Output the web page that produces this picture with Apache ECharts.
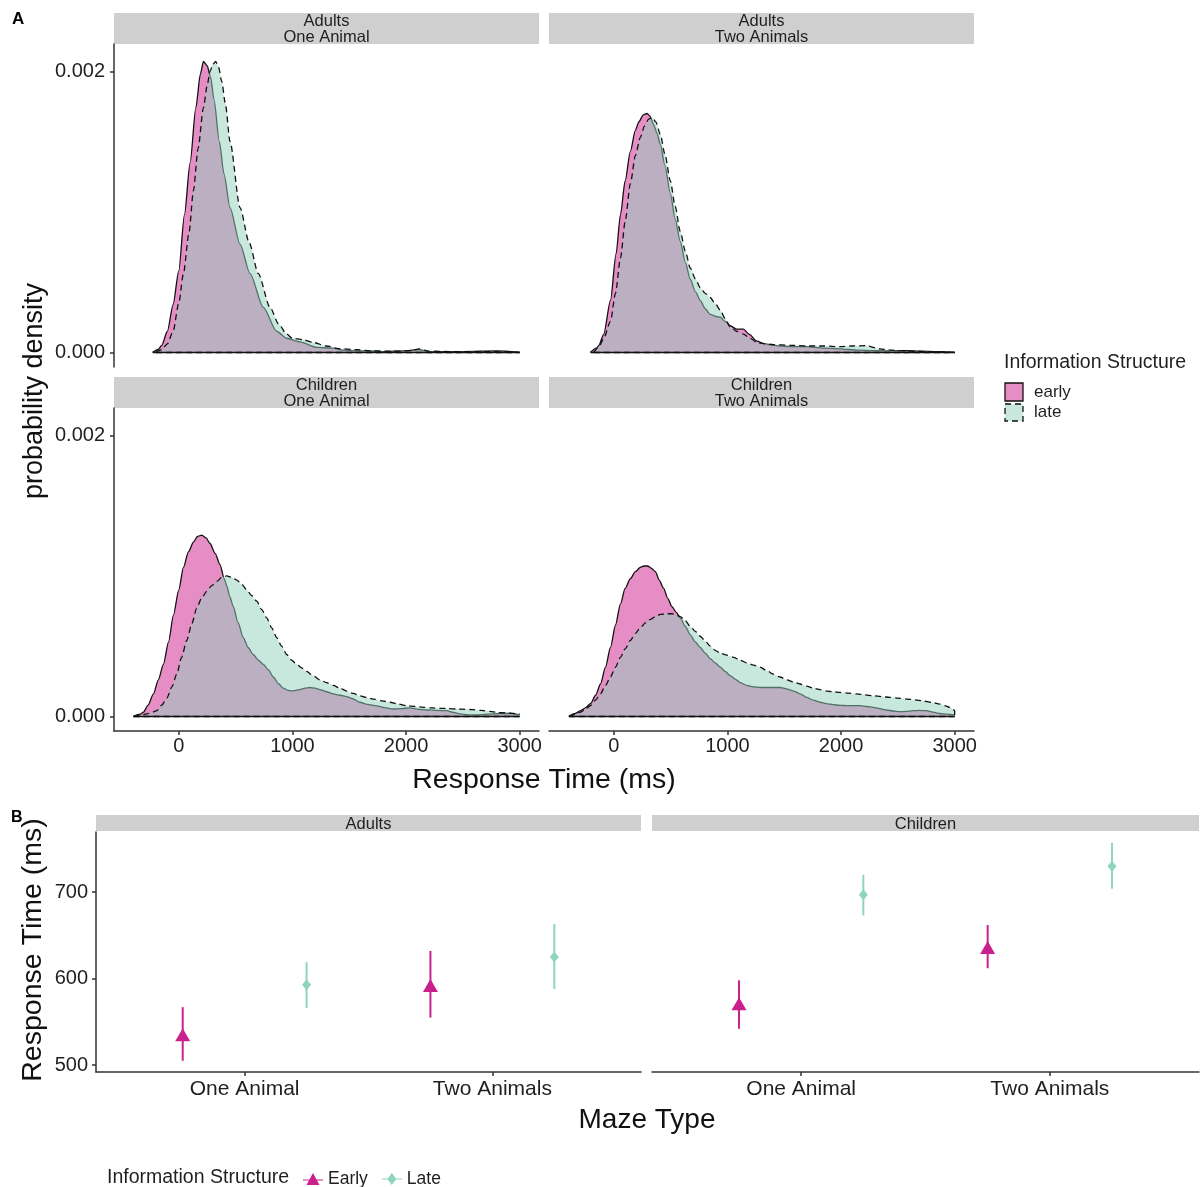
<!DOCTYPE html>
<html>
<head>
<meta charset="utf-8">
<title>Response time by information structure</title>
<script src="https://cdn.jsdelivr.net/npm/echarts@6/dist/echarts.min.js"></script>
<style>
  html, body { margin: 0; padding: 0; background: #fff; }
  #chart { width: 1200px; height: 1187px; }
</style>
</head>
<body>
<div id="chart"></div>
<script>
// density curves: [response time (ms), density x 1e-3]
const adultsOneEarly = [[-230, 0], [-180, 0.02], [-150, 0.05], [-100, 0.15], [-50, 0.34], [0, 0.58], [50, 0.98], [100, 1.35], [150, 1.74], [190, 1.98], [217, 2.07], [250, 2.04], [280, 1.96], [310, 1.8], [357, 1.5], [398, 1.27], [451, 1.03], [539, 0.77], [627, 0.56], [744, 0.32], [861, 0.15], [949, 0.1], [1066, 0.075], [1213, 0.035], [1350, 0.03], [1450, 0.015], [1600, 0.01], [1800, 0.005], [2000, 0.01], [2110, 0.02], [2200, 0.005], [2500, 0.005], [2800, 0.01], [3000, 0]]
const adultsOneLate = [[-200, 0], [-150, 0.02], [-100, 0.06], [-50, 0.15], [0, 0.35], [41, 0.56], [90, 0.85], [129, 1.15], [170, 1.45], [217, 1.74], [250, 1.9], [275, 2.0], [300, 2.05], [325, 2.07], [350, 2.03], [378, 1.93], [410, 1.77], [451, 1.5], [539, 1.03], [620, 0.78], [700, 0.56], [803, 0.32], [880, 0.2], [949, 0.13], [1000, 0.1], [1095, 0.09], [1183, 0.07], [1300, 0.045], [1420, 0.025], [1550, 0.02], [1700, 0.01], [1900, 0.008], [2050, 0.012], [2120, 0.025], [2200, 0.008], [2400, 0.005], [2700, 0.005], [3000, 0]]
const adultsTwoEarly = [[-205, 0], [-150, 0.03], [-132, 0.05], [-88, 0.13], [-29, 0.37], [20, 0.7], [59, 0.98], [100, 1.22], [146, 1.43], [190, 1.58], [220, 1.64], [260, 1.69], [293, 1.7], [320, 1.68], [351, 1.62], [380, 1.56], [410, 1.48], [450, 1.33], [498, 1.13], [540, 0.95], [585, 0.79], [630, 0.64], [673, 0.52], [720, 0.43], [761, 0.37], [805, 0.31], [849, 0.27], [900, 0.255], [937, 0.25], [980, 0.22], [1024, 0.19], [1080, 0.165], [1141, 0.165], [1190, 0.13], [1259, 0.08], [1330, 0.06], [1405, 0.05], [1550, 0.04], [1697, 0.04], [1850, 0.03], [1990, 0.025], [2150, 0.015], [2283, 0.012], [2450, 0.01], [2576, 0.012], [2700, 0.008], [2850, 0.005], [3000, 0]]
const adultsTwoLate = [[-176, 0], [-130, 0.04], [-88, 0.1], [-29, 0.22], [15, 0.42], [59, 0.67], [100, 0.93], [146, 1.2], [190, 1.4], [234, 1.53], [270, 1.61], [307, 1.66], [340, 1.67], [370, 1.64], [410, 1.55], [450, 1.41], [498, 1.22], [540, 1.04], [585, 0.86], [630, 0.72], [673, 0.6], [720, 0.52], [761, 0.46], [805, 0.42], [849, 0.39], [890, 0.35], [937, 0.3], [980, 0.24], [1024, 0.18], [1080, 0.15], [1141, 0.13], [1200, 0.1], [1259, 0.07], [1330, 0.06], [1405, 0.055], [1550, 0.05], [1697, 0.045], [1850, 0.045], [1990, 0.04], [2100, 0.045], [2224, 0.047], [2341, 0.025], [2450, 0.015], [2576, 0.008], [2750, 0.005], [3000, 0]]
const childrenOneEarly = [[-398, 0], [-340, 0.015], [-311, 0.03], [-270, 0.08], [-223, 0.16], [-180, 0.26], [-135, 0.37], [-90, 0.53], [-47, 0.72], [0, 0.9], [41, 1.06], [85, 1.17], [129, 1.24], [165, 1.28], [202, 1.29], [240, 1.27], [275, 1.23], [320, 1.16], [363, 1.08], [400, 0.98], [422, 0.93], [450, 0.85], [480, 0.78], [520, 0.67], [568, 0.56], [610, 0.49], [656, 0.44], [700, 0.4], [744, 0.37], [790, 0.33], [832, 0.28], [880, 0.23], [920, 0.2], [960, 0.185], [993, 0.18], [1030, 0.185], [1066, 0.19], [1110, 0.2], [1154, 0.205], [1200, 0.2], [1242, 0.19], [1300, 0.175], [1359, 0.16], [1420, 0.15], [1477, 0.14], [1530, 0.125], [1594, 0.1], [1660, 0.085], [1740, 0.075], [1810, 0.062], [1887, 0.052], [1960, 0.055], [2033, 0.06], [2110, 0.05], [2180, 0.045], [2270, 0.042], [2356, 0.04], [2420, 0.028], [2473, 0.017], [2550, 0.01], [2619, 0.01], [2720, 0.015], [2824, 0.02], [2912, 0.02], [3000, 0.01]]
const childrenOneLate = [[-398, 0], [-340, 0.008], [-281, 0.017], [-230, 0.03], [-193, 0.04], [-150, 0.08], [-105, 0.13], [-60, 0.21], [-18, 0.3], [25, 0.42], [70, 0.54], [115, 0.66], [158, 0.77], [200, 0.84], [246, 0.89], [290, 0.93], [334, 0.96], [380, 0.99], [422, 1.0], [465, 0.99], [510, 0.97], [555, 0.94], [598, 0.9], [640, 0.86], [686, 0.82], [730, 0.76], [774, 0.7], [818, 0.63], [862, 0.56], [905, 0.5], [950, 0.44], [993, 0.4], [1037, 0.37], [1081, 0.345], [1125, 0.32], [1180, 0.29], [1242, 0.26], [1300, 0.24], [1359, 0.22], [1420, 0.2], [1477, 0.18], [1535, 0.163], [1594, 0.146], [1650, 0.134], [1711, 0.123], [1790, 0.11], [1858, 0.1], [1930, 0.088], [2004, 0.076], [2080, 0.07], [2151, 0.064], [2224, 0.06], [2297, 0.057], [2370, 0.055], [2444, 0.052], [2520, 0.05], [2590, 0.047], [2660, 0.042], [2736, 0.035], [2810, 0.027], [2883, 0.024], [2950, 0.02], [3000, 0.017]]
const childrenTwoEarly = [[-395, 0], [-340, 0.02], [-293, 0.04], [-250, 0.06], [-205, 0.09], [-160, 0.15], [-117, 0.23], [-73, 0.35], [-29, 0.49], [15, 0.65], [59, 0.8], [100, 0.91], [146, 0.98], [190, 1.03], [234, 1.06], [266, 1.07], [298, 1.07], [330, 1.055], [366, 1.03], [400, 0.97], [439, 0.91], [475, 0.84], [512, 0.78], [550, 0.74], [585, 0.7], [630, 0.64], [673, 0.58], [717, 0.53], [761, 0.49], [805, 0.45], [849, 0.41], [893, 0.38], [937, 0.35], [980, 0.32], [1024, 0.29], [1068, 0.265], [1112, 0.24], [1170, 0.22], [1229, 0.21], [1290, 0.205], [1346, 0.205], [1400, 0.205], [1463, 0.205], [1520, 0.195], [1580, 0.18], [1640, 0.16], [1697, 0.135], [1755, 0.115], [1815, 0.1], [1870, 0.09], [1932, 0.083], [1990, 0.078], [2049, 0.076], [2110, 0.076], [2166, 0.076], [2225, 0.07], [2283, 0.064], [2340, 0.055], [2400, 0.045], [2460, 0.038], [2517, 0.033], [2575, 0.035], [2634, 0.04], [2690, 0.042], [2751, 0.04], [2810, 0.03], [2868, 0.02], [2930, 0.015], [3000, 0.01]]
const childrenTwoLate = [[-395, 0], [-340, 0.015], [-293, 0.03], [-250, 0.05], [-205, 0.076], [-160, 0.115], [-117, 0.16], [-73, 0.22], [-29, 0.28], [15, 0.35], [59, 0.42], [100, 0.48], [146, 0.54], [190, 0.59], [234, 0.63], [278, 0.665], [322, 0.69], [366, 0.71], [410, 0.725], [460, 0.73], [512, 0.73], [550, 0.72], [585, 0.71], [630, 0.68], [673, 0.64], [717, 0.605], [761, 0.57], [805, 0.535], [849, 0.5], [893, 0.47], [937, 0.45], [995, 0.435], [1054, 0.42], [1112, 0.4], [1171, 0.38], [1230, 0.365], [1288, 0.35], [1346, 0.325], [1405, 0.3], [1463, 0.28], [1522, 0.26], [1580, 0.245], [1639, 0.23], [1697, 0.215], [1756, 0.2], [1815, 0.19], [1873, 0.18], [1932, 0.175], [1990, 0.17], [2063, 0.165], [2137, 0.16], [2210, 0.153], [2283, 0.146], [2356, 0.14], [2429, 0.135], [2500, 0.13], [2576, 0.123], [2650, 0.117], [2722, 0.11], [2795, 0.1], [2868, 0.087], [2920, 0.075], [2956, 0.064], [2985, 0.05], [3000, 0.04], [3000, 0]]

const densityTicks = [0, 2]
const timeTicks = [0, 1000, 2000, 3000]

// panel B: mean response time with error range
const mazeTypes = ['One Animal', 'Two Animals']
const adultsEarlyMean = [535, 592]
const adultsEarlyLow = [505, 555]
const adultsEarlyHigh = [567, 632]
const adultsLateMean = [593, 625]
const adultsLateLow = [566, 588]
const adultsLateHigh = [619, 663]
const childrenEarlyMean = [571, 636]
const childrenEarlyLow = [542, 612]
const childrenEarlyHigh = [598, 662]
const childrenLateMean = [697, 730]
const childrenLateLow = [673, 704]
const childrenLateHigh = [720, 757]
const rtTicks = [500, 600, 700]

const font = 'Liberation Sans, Arial, sans-serif'
const ink = '#1f1f1f'
const axisColor = '#333'
const colors = {
  earlyFill: 'rgba(208, 28, 139, 0.5)',
  lateFill: 'rgba(145, 209, 189, 0.5)',
  early: '#c9208d',
  late: '#8fd4be'
}
const dodge = 0.25

const chart = echarts.init(document.getElementById('chart'), null, { renderer: 'canvas' })

const grids = [
  { left: 114, top: 44, width: 425, height: 323 },
  { left: 549, top: 44, width: 425, height: 323 },
  { left: 114, top: 408, width: 425, height: 323 },
  { left: 549, top: 408, width: 425, height: 323 },
  { left: 96, top: 832, width: 545, height: 240 },
  { left: 652, top: 832, width: 547, height: 240 }
]

const lineStyle = { color: axisColor, width: 1.5 }
const xAxis = []
const yAxis = []
for (let i = 0; i < 4; i++) {
  const bottomRow = i >= 2
  const leftCol = i % 2 === 0
  xAxis.push({
    type: 'value', gridIndex: i, min: -570, max: 3170,
    axisLine: { show: bottomRow, onZero: false, lineStyle },
    axisTick: { show: bottomRow, length: 4, customValues: timeTicks, lineStyle },
    axisLabel: {
      show: bottomRow, customValues: timeTicks, margin: 5, fontSize: 20, color: ink, fontFamily: font,
      formatter: v => String(v)
    },
    splitLine: { show: false }
  })
  yAxis.push({
    type: 'value', gridIndex: i, min: -0.1045, max: 2.1945,
    axisLine: { show: leftCol, onZero: false, lineStyle },
    axisTick: { show: leftCol, length: 4, customValues: densityTicks, lineStyle },
    axisLabel: {
      show: leftCol, customValues: densityTicks, margin: 9, fontSize: 20, color: ink, fontFamily: font,
      formatter: v => (v / 1000).toFixed(3)
    },
    splitLine: { show: false }
  })
}
for (let i = 4; i < 6; i++) {
  xAxis.push({
    type: 'value', gridIndex: i, min: 0.4, max: 2.6,
    axisLine: { show: true, onZero: false, lineStyle },
    axisTick: { show: true, length: 4, customValues: [1, 2], lineStyle },
    axisLabel: {
      customValues: [1, 2], margin: 7, fontSize: 21, color: ink, fontFamily: font,
      formatter: v => mazeTypes[Math.round(v) - 1]
    },
    splitLine: { show: false }
  })
  yAxis.push({
    type: 'value', gridIndex: i, min: 492, max: 769.6,
    axisLine: { show: i === 4, onZero: false, lineStyle },
    axisTick: { show: i === 4, length: 4, customValues: rtTicks, lineStyle },
    axisLabel: { show: i === 4, customValues: rtTicks, margin: 8, fontSize: 20, color: ink, fontFamily: font },
    splitLine: { show: false }
  })
}

// late curves sit one z level up so their fill tints the early outline, like the original
const densitySeries = (name, data, idx, late) => {
  const ls = { color: '#111', width: 1.3, type: late ? [6, 4] : 'solid' }
  return {
    type: 'line', name, xAxisIndex: idx, yAxisIndex: idx, data,
    symbol: 'none', smooth: 0.25, smoothMonotone: 'x',
    z: late ? 3 : 2,
    lineStyle: ls,
    areaStyle: { color: late ? colors.lateFill : colors.earlyFill, opacity: 1 },
    emphasis: { disabled: true },
    markLine: {
      silent: true, symbol: 'none', label: { show: false }, lineStyle: ls, animation: false,
      data: [[{ coord: [data[0][0], 0] }, { coord: [data[data.length - 1][0], 0] }]]
    }
  }
}

const rangeSeries = (idx, offset, low, high, color) => ({
  type: 'custom', name: 'range', xAxisIndex: idx, yAxisIndex: idx,
  data: mazeTypes.map((m, i) => [i + 1 + offset, low[i], high[i]]),
  encode: { x: 0, y: [1, 2] },
  renderItem: (params, api) => {
    const a = api.coord([api.value(0), api.value(1)])
    const b = api.coord([api.value(0), api.value(2)])
    return { type: 'line', shape: { x1: a[0], y1: a[1], x2: b[0], y2: b[1] }, style: { stroke: color, lineWidth: 2 } }
  },
  z: 2
})

const pointSeries = (name, idx, offset, means, late) => ({
  type: 'scatter', name, xAxisIndex: idx, yAxisIndex: idx,
  data: mazeTypes.map((m, i) => [i + 1 + offset, means[i]]),
  symbol: late ? 'diamond' : 'triangle',
  symbolSize: late ? [9, 11] : [15, 13],
  itemStyle: { color: late ? colors.late : colors.early, opacity: 1 },
  emphasis: { disabled: true },
  z: 3
})

const series = [
  densitySeries('early', adultsOneEarly, 0, false),
  densitySeries('late', adultsOneLate, 0, true),
  densitySeries('early', adultsTwoEarly, 1, false),
  densitySeries('late', adultsTwoLate, 1, true),
  densitySeries('early', childrenOneEarly, 2, false),
  densitySeries('late', childrenOneLate, 2, true),
  densitySeries('early', childrenTwoEarly, 3, false),
  densitySeries('late', childrenTwoLate, 3, true),
  rangeSeries(4, -dodge, adultsEarlyLow, adultsEarlyHigh, colors.early),
  rangeSeries(4, dodge, adultsLateLow, adultsLateHigh, colors.late),
  rangeSeries(5, -dodge, childrenEarlyLow, childrenEarlyHigh, colors.early),
  rangeSeries(5, dodge, childrenLateLow, childrenLateHigh, colors.late),
  pointSeries('Early', 4, -dodge, adultsEarlyMean, false),
  pointSeries('Late', 4, dodge, adultsLateMean, true),
  pointSeries('Early', 5, -dodge, childrenEarlyMean, false),
  pointSeries('Late', 5, dodge, childrenLateMean, true)
]

// facet strips and titles
const stripFill = '#cfcfcf'
const text = (str, x, y, size, opts = {}) => ({
  type: 'text', x, y, rotation: opts.rotation || 0, silent: true,
  style: {
    text: str, fill: opts.color || ink, fontSize: size, fontFamily: font,
    fontWeight: opts.bold ? 'bold' : 'normal',
    textAlign: opts.align || 'center', textVerticalAlign: 'middle'
  }
})
const strip = (x, y, w, h, lines) => {
  const els = [{ type: 'rect', shape: { x, y, width: w, height: h }, style: { fill: stripFill }, silent: true }]
  const step = h / lines.length
  lines.forEach((l, i) => els.push(text(l, x + w / 2, y + step * (i + 0.5) + 1, 16.5)))
  return els
}

const graphic = [
  ...strip(114, 13, 425, 31, ['Adults', 'One Animal']),
  ...strip(549, 13, 425, 31, ['Adults', 'Two Animals']),
  ...strip(114, 377, 425, 31, ['Children', 'One Animal']),
  ...strip(549, 377, 425, 31, ['Children', 'Two Animals']),
  ...strip(96, 815, 545, 16, ['Adults']),
  ...strip(652, 815, 547, 16, ['Children']),
  text('A', 12, 19, 17, { bold: true, align: 'left', color: '#000' }),
  text('B', 11, 818, 16, { bold: true, align: 'left', color: '#000' }),
  text('probability density', 35, 391, 27, { rotation: Math.PI / 2, color: '#111' }),
  text('Response Time (ms)', 544, 780, 28.5, { color: '#111' }),
  text('Response Time (ms)', 33, 950, 28.5, { rotation: Math.PI / 2, color: '#111' }),
  text('Maze Type', 647, 1120, 28, { color: '#111' }),
  // legend for panel A
  text('Information Structure', 1004, 363, 19.5, { align: 'left' }),
  { type: 'rect', shape: { x: 1005, y: 383, width: 18, height: 18 }, style: { fill: colors.earlyFill, stroke: '#111', lineWidth: 1.3 }, silent: true },
  { type: 'rect', shape: { x: 1005, y: 404, width: 18, height: 17 }, style: { fill: colors.lateFill, stroke: '#111', lineWidth: 1.3, lineDash: [6, 4] }, silent: true },
  text('early', 1034, 392, 17, { align: 'left' }),
  text('late', 1034, 412, 17, { align: 'left' }),
  // legend title for panel B
  text('Information Structure', 107, 1178, 19.5, { align: 'left' })
]

const option = {
  animation: false,
  backgroundColor: '#fff',
  grid: grids,
  xAxis,
  yAxis,
  legend: {
    data: [
      { name: 'Early', icon: 'path://M0,6.5L20,6.5L20,7.5L0,7.5Z M10,0L16.5,12L3.5,12Z' },
      { name: 'Late', icon: 'path://M0,5.5L20,5.5L20,6.5L0,6.5Z M10,0L14.5,6L10,12L5.5,6Z' }
    ],
    left: 303, top: 1170, itemWidth: 20, itemHeight: 12, itemGap: 14, padding: 0,
    selectedMode: false,
    textStyle: { fontSize: 17.5, color: ink, fontFamily: font }
  },
  graphic,
  series
}
chart.setOption(option)
</script>
</body>
</html>
